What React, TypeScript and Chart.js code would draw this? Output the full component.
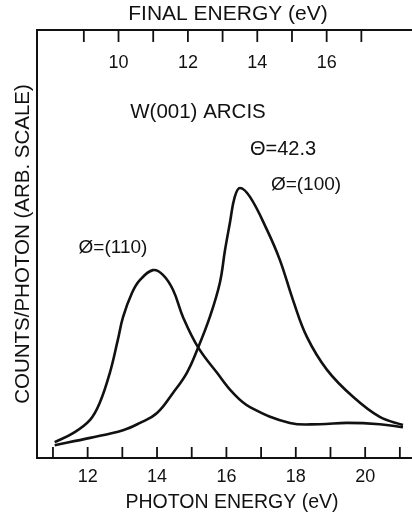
import React, { useEffect, useRef } from "react";
import { Chart, registerables } from "chart.js";

Chart.register(...registerables);

// Photon energy (eV) sample positions and counts/photon (arb. scale, 0..100)
const phi110Energy = [11.05, 11.58, 12.07, 12.35, 12.64, 12.87, 13.02, 13.28, 13.51, 13.88, 14.17, 14.46, 14.75, 15.18, 15.73, 16.19, 16.68, 17.83, 18.69, 19.47, 20.42, 21.09];
const phi110Counts = [3.7, 5.8, 8.9, 12.9, 19.9, 27.6, 32.9, 38.6, 41.6, 43.9, 42.8, 39.3, 32.9, 25.9, 19.9, 15.2, 11.9, 8.2, 7.9, 8.2, 7.9, 7.2];

const phi100Energy = [11.05, 12.07, 13.02, 13.51, 14.0, 14.46, 14.86, 15.18, 15.52, 15.81, 15.96, 16.1, 16.24, 16.39, 16.68, 17.17, 17.54, 17.92, 18.32, 18.9, 19.65, 20.42, 21.09];
const phi100Counts = [3.0, 4.7, 6.5, 8.2, 10.5, 15.2, 19.9, 25.7, 32.9, 40.9, 48.6, 54.9, 61.0, 63.1, 61.0, 53.3, 46.3, 36.9, 28.3, 20.6, 14.3, 9.6, 7.7];

const photonTicks = [11, 12, 13, 14, 15, 16, 17, 18, 19, 20, 21];
const photonLabels = [12, 14, 16, 18, 20];
const finalTicks = [9, 10, 11, 12, 13, 14, 15, 16, 17];
const finalLabels = [10, 12, 14, 16];
const finalOffset = 2.89; // photon energy - final energy

const xMin = 10.54;
const xMax = 21.35;

const INK = "#111111";
const FONT = "'Liberation Sans', Arial, sans-serif";

const toPoints = (xs: number[], ys: number[]) => xs.map((x, i) => ({ x, y: ys[i] }));

const decorPlugin = {
  id: "decor",
  afterDraw(chart: any) {
    const ctx = chart.ctx;
    const xs = chart.scales.x;
    const xt = chart.scales.x2;
    const area = chart.chartArea;
    ctx.save();
    ctx.strokeStyle = INK;
    ctx.lineWidth = 1.8;
    // inward tick marks
    photonTicks.forEach((v) => {
      const px = xs.getPixelForValue(v);
      ctx.beginPath();
      ctx.moveTo(px, area.bottom);
      ctx.lineTo(px, area.bottom - 11);
      ctx.stroke();
    });
    finalTicks.forEach((v) => {
      const px = xt.getPixelForValue(v);
      ctx.beginPath();
      ctx.moveTo(px, area.top);
      ctx.lineTo(px, area.top + 12);
      ctx.stroke();
    });
    ctx.fillStyle = INK;
    ctx.textAlign = "center";
    ctx.textBaseline = "middle";
    // top-axis tick labels (inside the frame)
    ctx.font = `18px ${FONT}`;
    finalLabels.forEach((v) => {
      ctx.fillText(String(v), xt.getPixelForValue(v), area.top + 33);
    });
    // texts
    const texts: [string, number, number, number][] = [
      ["FINAL ENERGY (eV)", 228, 14, 21],
      ["PHOTON ENERGY (eV)", 232, 503, 19.5],
      ["W(001) ARCIS", 198, 112, 20.5],
      ["Θ=42.3", 283, 149, 20],
      ["Ø=(100)", 306, 185, 19],
      ["Ø=(110)", 113, 248, 19],
    ];
    texts.forEach(([t, x, y, s]) => {
      ctx.font = `${s}px ${FONT}`;
      ctx.fillText(t, x, y);
    });
    ctx.restore();
  },
};

export default function App() {
  const ref = useRef<HTMLCanvasElement | null>(null);

  useEffect(() => {
    if (!ref.current) return;
    const chart = new Chart(ref.current, {
      type: "line",
      data: {
        datasets: [
          {
            label: "Ø=(110)",
            data: toPoints(phi110Energy, phi110Counts),
            borderColor: INK,
            borderWidth: 2.6,
            pointRadius: 0,
            tension: 0.4,
            fill: false,
          },
          {
            label: "Ø=(100)",
            data: toPoints(phi100Energy, phi100Counts),
            borderColor: INK,
            borderWidth: 2.6,
            pointRadius: 0,
            tension: 0.4,
            fill: false,
          },
        ],
      },
      options: {
        animation: false,
        responsive: false,
        layout: { padding: 0 },
        plugins: { legend: { display: false }, tooltip: { enabled: false } },
        scales: {
          x: {
            type: "linear",
            position: "bottom",
            min: xMin,
            max: xMax,
            afterFit: (s: any) => { s.height = 59; },
            afterBuildTicks: (s: any) => {
              s.ticks = photonTicks.map((v) => ({ value: v }));
            },
            ticks: {
              autoSkip: false,
              maxRotation: 0,
              padding: 8,
              color: INK,
              font: { family: FONT, size: 18 },
              callback: (v: any) => (photonLabels.includes(Number(v)) ? String(v) : ""),
            },
            grid: { display: true, drawOnChartArea: false, drawTicks: false, tickLength: 0 },
            border: { display: true, color: INK, width: 2 },
          },
          x2: {
            type: "linear",
            position: "top",
            min: xMin - finalOffset,
            max: xMax - finalOffset,
            afterFit: (s: any) => { s.height = 30; },
            afterBuildTicks: (s: any) => {
              s.ticks = finalTicks.map((v) => ({ value: v }));
            },
            ticks: { display: false },
            grid: { display: true, drawOnChartArea: false, drawTicks: false, tickLength: 0 },
            border: { display: true, color: INK, width: 2 },
          },
          y: {
            type: "linear",
            position: "left",
            min: 0,
            max: 100,
            afterFit: (s: any) => { s.width = 37; },
            ticks: { display: false },
            grid: { display: true, drawOnChartArea: false, drawTicks: false, tickLength: 0 },
            border: { display: true, color: INK, width: 2 },
            title: {
              display: true,
              text: "COUNTS/PHOTON (ARB. SCALE)",
              color: INK,
              font: { family: FONT, size: 20.5 },
              padding: { top: 11, bottom: 0 },
            },
          },
        },
      },
      plugins: [decorPlugin],
    } as any);
    return () => chart.destroy();
  }, []);

  return (
    <div style={{ position: "absolute", left: 0, top: 0, width: 412, height: 517, background: "#fff" }}>
      <canvas ref={ref} width={412} height={517} style={{ display: "block" }} />
    </div>
  );
}
